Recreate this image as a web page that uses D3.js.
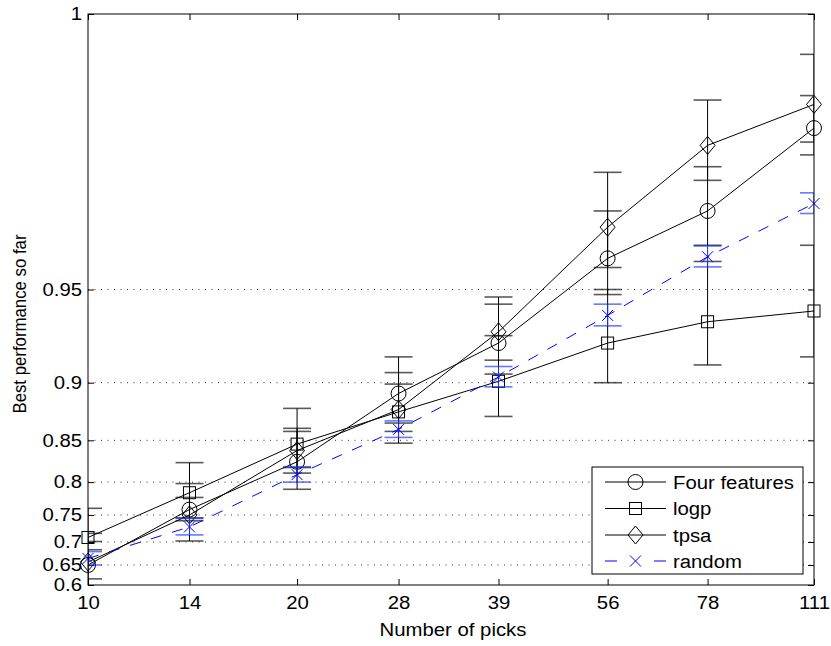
<!DOCTYPE html>
<html>
<head>
<meta charset="utf-8">
<script src="https://cdn.jsdelivr.net/npm/d3@7"></script>
<style>
  body { margin: 0; background: #fff; }
  svg { display: block; }
  text { font-family: "Liberation Sans", Arial, Helvetica, sans-serif; fill: #000; }
</style>
</head>
<body>
<svg id="chart" width="831" height="646"></svg>
<script>
// Number of picks (log-scaled x positions)
const picks = [10, 14, 20, 28, 39, 56, 78, 111];

// Y tick values and their labels
const yTicks = [0.6, 0.65, 0.7, 0.75, 0.8, 0.85, 0.9, 0.95, 1];
const yTickLabels = ["0.6", "0.65", "0.7", "0.75", "0.8", "0.85", "0.9", "0.95", "1"];

const seriesNames = ["Four features", "logp", "tpsa", "random"];

// Mean best performance so far, with one-sided error half-widths
const fourFeatures    = [0.650, 0.759, 0.826, 0.892, 0.925, 0.961, 0.974, 0.989];
const fourFeaturesErr = [0.034, 0.019, 0.036, 0.025, 0.019, 0.013, 0.009, 0.004];

const logp    = [0.709, 0.785, 0.846, 0.877, 0.901, 0.925, 0.936, 0.941];
const logpErr = [0.008, 0.040, 0.034, 0.030, 0.028, 0.025, 0.024, 0.024];

const tpsa    = [0.657, 0.750, 0.839, 0.879, 0.931, 0.970, 0.9865, 0.992];
const tpsaErr = [0.104, 0.048, 0.020, 0.020, 0.016, 0.012, 0.006, 0.005];

const random    = [0.665, 0.729, 0.810, 0.861, 0.904, 0.939, 0.9615, 0.9757];
const randomErr = [0.015, 0.015, 0.010, 0.008, 0.007, 0.005, 0.0033, 0.0023];

const series = [
  { name: seriesNames[0], values: fourFeatures, err: fourFeaturesErr, color: "#000", dash: null, marker: "circle" },
  { name: seriesNames[1], values: logp,         err: logpErr,         color: "#000", dash: null, marker: "square" },
  { name: seriesNames[2], values: tpsa,         err: tpsaErr,         color: "#000", dash: null, marker: "diamond" },
  { name: seriesNames[3], values: random,       err: randomErr,       color: "#0000ff", dash: "11,11", marker: "cross" }
];

// Layout
const L = 88, R = 814, T = 14, B = 585;
const FS = 18, SX = 1.13;   // font size and horizontal text stretch

const svg = d3.select("#chart");

const x = d3.scaleLog().domain([10, 111]).range([L, R]);
// y axis: log distance below 1.01, so the top of the range opens up near 1
const yGap = d3.scaleLog().domain([0.41, 0.01]).range([B, T]);
const y = v => yGap(1.01 - v);
const gapTicks = yTicks.map(v => 1.01 - v);

svg.append("defs").append("clipPath").attr("id", "plotClip")
  .append("rect").attr("x", L).attr("y", T).attr("width", R - L).attr("height", B - T);

// Dotted horizontal grid
svg.append("g").selectAll("line")
  .data(yTicks.filter(v => v > 0.6 && v < 1))
  .join("line")
  .attr("x1", L).attr("x2", R)
  .attr("y1", d => y(d)).attr("y2", d => y(d))
  .attr("stroke", "#333").attr("stroke-width", 1)
  .attr("stroke-dasharray", "1,5.5");

// Axes with inward ticks on all four sides
const tick = 6;
const gx = svg.append("g").attr("transform", `translate(0,${B})`)
  .call(d3.axisBottom(x).tickValues(picks).tickFormat(d3.format("d"))
    .tickSizeInner(-tick).tickSizeOuter(0).tickPadding(11));
const gy = svg.append("g").attr("transform", `translate(${L},0)`)
  .call(d3.axisLeft(yGap).tickValues(gapTicks).tickFormat((d, i) => yTickLabels[i])
    .tickSizeInner(-tick).tickSizeOuter(0).tickPadding(6));
svg.append("g").attr("transform", `translate(0,${T})`)
  .call(d3.axisTop(x).tickValues(picks).tickFormat("").tickSizeInner(-tick).tickSizeOuter(0));
svg.append("g").attr("transform", `translate(${R},0)`)
  .call(d3.axisRight(yGap).tickValues(gapTicks).tickFormat("").tickSizeInner(-tick).tickSizeOuter(0));

svg.selectAll(".domain").remove();
svg.selectAll(".tick line").attr("stroke", "#000").attr("stroke-width", 1);
svg.selectAll(".tick text").attr("font-size", FS).attr("font-family", null).attr("fill", "#000");
gx.selectAll(".tick text").attr("transform", `scale(${SX},1)`);
gy.selectAll(".tick text").attr("transform", `scale(${SX},1)`)
  .attr("x", -6 / SX);
gy.selectAll(".tick").filter((d, i) => yTicks[i] === 1).select("text").attr("dy", "0.32em");

// Series: error bars, connecting lines, markers
const capW = 14;
const plot = svg.append("g");

series.forEach(s => {
  const pts = picks.map((p, i) => ({ px: x(p), v: s.values[i], e: s.err[i] }));
  const gBars = plot.append("g").attr("clip-path", "url(#plotClip)");
  const barStroke = s.color === "#000" ? "#000" : "#1030ff";
  pts.forEach(d => {
    const yHi = y(d.v + d.e), yLo = y(d.v - d.e);
    gBars.append("line").attr("x1", d.px).attr("x2", d.px).attr("y1", yHi).attr("y2", yLo)
      .attr("stroke", barStroke).attr("stroke-width", 1);
    [yHi, yLo].forEach(yy => {
      gBars.append("line").attr("x1", d.px - capW).attr("x2", d.px + capW)
        .attr("y1", yy).attr("y2", yy)
        .attr("stroke", barStroke).attr("stroke-width", 1.6).attr("stroke-opacity", 0.65);
    });
  });

  plot.append("g").attr("clip-path", "url(#plotClip)").append("path")
    .datum(pts)
    .attr("d", d3.line().x(d => d.px).y(d => y(d.v)))
    .attr("fill", "none").attr("stroke", s.color).attr("stroke-width", 1)
    .attr("stroke-dasharray", s.dash);

  const gm = plot.append("g");
  pts.forEach(d => drawMarker(gm, s.marker, d.px, y(d.v), s.color));
});

function drawMarker(g, kind, cx, cy, color) {
  const m = g.append("g").attr("transform", `translate(${cx},${cy})`)
    .attr("fill", "none").attr("stroke", color).attr("stroke-width", 1);
  if (kind === "circle") m.append("circle").attr("r", 7.5);
  else if (kind === "square") m.append("rect").attr("x", -6).attr("y", -6).attr("width", 12).attr("height", 12);
  else if (kind === "diamond") m.append("path").attr("d", "M0,-9L7.5,0L0,9L-7.5,0Z");
  else if (kind === "cross") m.append("path").attr("d", "M-5.5,-5.5L5.5,5.5M-5.5,5.5L5.5,-5.5");
}

// Axes box
svg.append("rect").attr("x", L).attr("y", T).attr("width", R - L).attr("height", B - T)
  .attr("fill", "none").attr("stroke", "#000").attr("stroke-width", 1);

// Axis titles
svg.append("text")
  .attr("transform", `translate(${(L + R) / 2 + 2},636) scale(${SX},1)`)
  .attr("text-anchor", "middle").attr("font-size", FS)
  .text("Number of picks");
svg.append("text")
  .attr("transform", `translate(26,324) scale(${SX},1) rotate(-90)`)
  .attr("text-anchor", "middle").attr("font-size", 16.8)
  .text("Best performance so far");

// Legend
const lg = svg.append("g");
lg.append("rect").attr("x", 592).attr("y", 467).attr("width", 211).attr("height", 107)
  .attr("fill", "#fff").attr("stroke", "#000").attr("stroke-width", 1);
const rowY = [482, 508.5, 535, 561];
series.forEach((s, i) => {
  const ry = rowY[i];
  lg.append("line").attr("x1", 605).attr("x2", 666).attr("y1", ry).attr("y2", ry)
    .attr("stroke", s.color).attr("stroke-width", 1)
    .attr("stroke-dasharray", s.dash ? "12,37,12" : null);
  drawMarker(lg, s.marker, 635.5, ry, s.color);
  lg.append("text").attr("transform", `translate(673,${ry + 6.5}) scale(${SX},1)`)
    .attr("font-size", FS).text(s.name);
});
</script>
</body>
</html>
